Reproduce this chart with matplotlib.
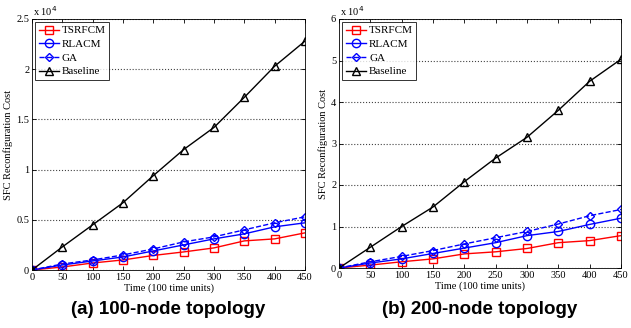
import matplotlib
matplotlib.use("Agg")
import matplotlib.pyplot as plt

# время (100 ед.)
times = [0, 50, 100, 150, 200, 250, 300, 350, 400, 450]

# (a) 100 узлов, значения в единицах 10^4
a_tsrfcm = [0, 0.03, 0.07, 0.10, 0.145, 0.18, 0.22, 0.29, 0.31, 0.37]
a_rlacm = [0, 0.05, 0.09, 0.13, 0.19, 0.25, 0.31, 0.36, 0.43, 0.47]
a_ga = [0, 0.06, 0.10, 0.15, 0.21, 0.28, 0.33, 0.40, 0.47, 0.53]
a_base = [0, 0.23, 0.45, 0.67, 0.94, 1.20, 1.42, 1.72, 2.03, 2.28]

# (b) 200 узлов
b_tsrfcm = [0, 0.07, 0.15, 0.22, 0.34, 0.39, 0.47, 0.61, 0.66, 0.78]
b_rlacm = [0, 0.12, 0.22, 0.35, 0.48, 0.61, 0.78, 0.88, 1.05, 1.20]
b_ga = [0, 0.15, 0.28, 0.42, 0.58, 0.73, 0.88, 1.06, 1.26, 1.41]
b_base = [0, 0.50, 1.00, 1.47, 2.08, 2.65, 3.15, 3.80, 4.50, 5.03]

labels = ["TSRFCM", "RLACM", "GA", "Baseline"]
ylims_a = (0, 2.5)
ylims_b = (0, 6)
yticks_a = [0, 0.5, 1, 1.5, 2, 2.5]
yticks_b = [0, 1, 2, 3, 4, 5, 6]
captions = ["(a) 100-node topology", "(b) 200-node topology"]

W, H = 631, 328
fig = plt.figure(figsize=(W / 100, H / 100), dpi=100)

serif = "Liberation Serif"


def draw_panel(rect, series, ylim, yticks, caption):
    l, t, r, b = rect
    ax = fig.add_axes([l / W, 1 - b / H, (r - l) / W, (b - t) / H])
    styles = [
        dict(color="red", marker="s", ls="-"),
        dict(color="blue", marker="o", ls="-", markersize=6),
        dict(color="blue", marker="D", ls="--", markersize=4.5),
        dict(color="black", marker="^", ls="-", markersize=6),
    ]
    for vals, lab, st in zip(series, labels, styles):
        kw = dict(markersize=5.5, lw=1.0, markerfacecolor="none", markeredgewidth=1.0)
        kw.update(st)
        ax.plot(times, vals, label=lab, **kw)

    ax.set_xlim(0, 450)
    ax.set_ylim(*ylim)
    ax.set_xticks(times)
    ax.set_yticks(yticks)
    ax.set_yticklabels([f"{v:g}" for v in yticks])
    ax.tick_params(direction="in", top=True, right=True, length=3, width=0.6,
                   labelsize=7.5, pad=2)
    for lbl in ax.get_xticklabels() + ax.get_yticklabels():
        lbl.set_fontfamily(serif)
    ax.yaxis.grid(True, ls=":", color="#444444", lw=0.8)
    for sp in ax.spines.values():
        sp.set_linewidth(0.6)

    ax.set_xlabel("Time (100 time units)", fontsize=7.5, family=serif, labelpad=1)
    ax.set_ylabel("SFC Reconfiguration Cost", fontsize=7.5, family=serif, labelpad=2)
    ax.text(0.005, 1.005, r"x 10$^4$", transform=ax.transAxes, fontsize=7.5,
            family=serif, va="bottom", ha="left")

    leg = ax.legend(loc="upper left", prop={"family": serif, "size": 8},
                    frameon=True, fancybox=False, borderpad=0.3, labelspacing=0.35,
                    handlelength=1.8, handletextpad=0.3, borderaxespad=0.3)
    leg.get_frame().set_edgecolor("black")
    leg.get_frame().set_linewidth(0.7)

    fig.text((l + r) / 2 / W, 1 - 309 / H, caption, ha="center", va="center",
             fontsize=13.5, fontweight="bold", family="Liberation Sans")
    return ax


draw_panel((32, 19, 305, 270), [a_tsrfcm, a_rlacm, a_ga, a_base],
           ylims_a, yticks_a, captions[0])
draw_panel((339, 19, 621, 268), [b_tsrfcm, b_rlacm, b_ga, b_base],
           ylims_b, yticks_b, captions[1])

fig.savefig("out.png", dpi=100)
